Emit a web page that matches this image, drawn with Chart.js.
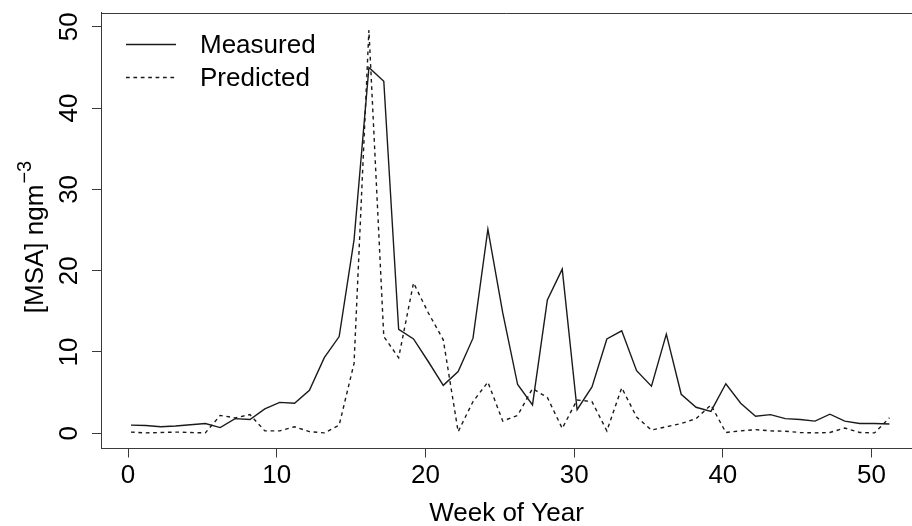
<!DOCTYPE html>
<html>
<head>
<meta charset="utf-8">
<script src="https://cdn.jsdelivr.net/npm/chart.js@4/dist/chart.umd.min.js"></script>
<style>
  html, body { margin: 0; padding: 0; background: #fff; }
  #wrap { width: 912px; height: 526px; }
</style>
</head>
<body>
<div id="wrap"><canvas id="msa-chart" width="912" height="526"></canvas></div>
<script>
/* MSA weekly concentrations — measured vs predicted */
/* globals Chart */

'use strict';

// ── Data ───────────────────────────────────────────────────────────────────
const weeks = [
  0.2, 1.2, 2.2, 3.2, 4.2, 5.2, 6.2, 7.2, 8.2, 9.2,
  10.2, 11.2, 12.2, 13.2, 14.2, 15.2, 16.2, 17.2, 18.2, 19.2,
  20.2, 21.2, 22.2, 23.2, 24.2, 25.2, 26.2, 27.2, 28.2, 29.2,
  30.2, 31.2, 32.2, 33.2, 34.2, 35.2, 36.2, 37.2, 38.2, 39.2,
  40.2, 41.2, 42.2, 43.2, 44.2, 45.2, 46.2, 47.2, 48.2, 49.2,
  50.2, 51.2
];

const measured = [
  1.0, 0.95, 0.8, 0.9, 1.05, 1.2, 0.7, 1.8, 1.7, 3.0,
  3.8, 3.7, 5.3, 9.3, 11.9, 23.8, 45.0, 43.3, 12.8, 11.6,
  8.8, 5.9, 7.6, 11.7, 25.1, 14.8, 6.0, 3.5, 16.4, 20.2,
  2.9, 5.7, 11.6, 12.6, 7.7, 5.8, 12.2, 4.8, 3.2, 2.7,
  6.1, 3.7, 2.1, 2.3, 1.8, 1.7, 1.5, 2.35, 1.5, 1.2,
  1.2, 1.15
];

const predicted = [
  0.15, 0.05, 0.1, 0.15, 0.1, 0.05, 2.2, 1.9, 2.3, 0.3,
  0.3, 0.8, 0.2, 0.05, 1.0, 8.6, 49.6, 11.9, 9.3, 18.5,
  14.8, 11.5, 0.2, 3.9, 6.3, 1.5, 2.2, 5.5, 4.4, 0.6,
  4.1, 3.9, 0.3, 5.6, 2.0, 0.4, 0.8, 1.2, 1.8, 3.5,
  0.1, 0.3, 0.45, 0.3, 0.25, 0.1, 0.05, 0.1, 0.65, 0.1,
  0.05, 1.9
];

const xTicks = [0, 10, 20, 30, 40, 50];
const yTicks = [0, 10, 20, 30, 40, 50];

const seriesLabels = ['Measured', 'Predicted'];

// ── Look ───────────────────────────────────────────────────────────────────
const FONT   = '"Liberation Sans", Arial, Helvetica, sans-serif';
const SIZE   = 26;
const INK    = '#000';
const FRAME  = '#3a3a3a';
const LINE   = '#1a1a1a';
const DASH   = [3.7, 3.7];

Chart.defaults.font.family = FONT;
Chart.defaults.font.size = SIZE;
Chart.defaults.color = INK;

const toPoints = ys => ys.map((y, i) => ({ x: weeks[i], y }));

// ── Plugins: top frame line, legend, y title with superscript ──────────────
const framePlugin = {
  id: 'frame',
  afterDraw(chart) {
    const { ctx, chartArea: a } = chart;
    ctx.save();
    ctx.strokeStyle = FRAME;
    ctx.lineWidth = 1;
    ctx.beginPath();
    ctx.moveTo(a.left, Math.round(a.top) + 0.5);
    ctx.lineTo(a.right, Math.round(a.top) + 0.5);
    ctx.stroke();
    ctx.restore();
  }
};

const legendPlugin = {
  id: 'rlegend',
  afterDraw(chart) {
    const { ctx } = chart;
    const rows = [44.5, 77.5];
    ctx.save();
    chart.data.datasets.forEach((ds, i) => {
      const y = rows[i];
      ctx.strokeStyle = ds.borderColor;
      ctx.lineWidth = ds.borderWidth;
      ctx.setLineDash(ds.borderDash || []);
      ctx.beginPath();
      ctx.moveTo(126, y);
      ctx.lineTo(176, y);
      ctx.stroke();
      ctx.setLineDash([]);
      ctx.fillStyle = INK;
      ctx.font = `${SIZE}px ${FONT}`;
      ctx.textAlign = 'left';
      ctx.textBaseline = 'middle';
      ctx.fillText(ds.label, 200, y + 1);
    });
    ctx.restore();
  }
};

const yTitlePlugin = {
  id: 'ytitle',
  afterDraw(chart) {
    const { ctx } = chart;
    const main = '[MSA] ngm';
    const sup  = '\u22123';
    const supSize = Math.round(SIZE * 0.75);
    ctx.save();
    ctx.font = `${SIZE}px ${FONT}`;
    const wMain = ctx.measureText(main).width;
    ctx.font = `${supSize}px ${FONT}`;
    const wSup = ctx.measureText(sup).width;
    const total = wMain + wSup + 1;
    ctx.translate(43, 237);
    ctx.rotate(-Math.PI / 2);
    ctx.fillStyle = INK;
    ctx.textBaseline = 'alphabetic';
    ctx.textAlign = 'left';
    ctx.font = `${SIZE}px ${FONT}`;
    ctx.fillText(main, -total / 2, 0);
    ctx.font = `${supSize}px ${FONT}`;
    ctx.fillText(sup, -total / 2 + wMain + 1, -SIZE * 0.45);
    ctx.restore();
  }
};

// ── Chart ──────────────────────────────────────────────────────────────────
new Chart(document.getElementById('msa-chart'), {
  type: 'line',
  data: {
    datasets: [
      {
        label: seriesLabels[0],
        data: toPoints(measured),
        borderColor: LINE,
        borderWidth: 1.4,
        pointRadius: 0,
        tension: 0,
        fill: false
      },
      {
        label: seriesLabels[1],
        data: toPoints(predicted),
        borderColor: LINE,
        borderWidth: 1.4,
        borderDash: DASH,
        pointRadius: 0,
        tension: 0,
        fill: false
      }
    ]
  },
  options: {
    responsive: false,
    animation: false,
    devicePixelRatio: 1,
    layout: { autoPadding: false, padding: { top: 12.5, right: 0, bottom: 0, left: 0 } },
    plugins: { legend: { display: false }, tooltip: { enabled: false } },
    scales: {
      x: {
        type: 'linear',
        min: -1.816,
        max: 52.72,
        afterBuildTicks: s => { s.ticks = xTicks.map(v => ({ value: v })); },
        afterFit: s => { s.height = 77.5; s.paddingLeft = 0; s.paddingRight = 0; },
        grid: { drawOnChartArea: false, drawTicks: true, tickLength: 9, color: FRAME, lineWidth: 1 },
        border: { display: true, color: FRAME, width: 1 },
        ticks: { padding: 3, maxRotation: 0, autoSkip: false, color: INK, font: { size: SIZE } },
        title: { display: true, text: 'Week of Year', color: INK, font: { size: SIZE }, padding: { top: 0, bottom: -3 } }
      },
      y: {
        type: 'linear',
        min: -1.87,
        max: 51.76,
        afterBuildTicks: s => { s.ticks = yTicks.map(v => ({ value: v })); },
        afterFit: s => { s.width = 101; s.paddingTop = 0; s.paddingBottom = 0; },
        grid: { drawOnChartArea: false, drawTicks: true, tickLength: 9, color: FRAME, lineWidth: 1 },
        border: { display: true, color: FRAME, width: 1 },
        ticks: { minRotation: 90, maxRotation: 90, crossAlign: 'center', padding: 8, color: INK, font: { size: SIZE } }
      }
    }
  },
  plugins: [framePlugin, legendPlugin, yTitlePlugin]
});
</script>
</body>
</html>
